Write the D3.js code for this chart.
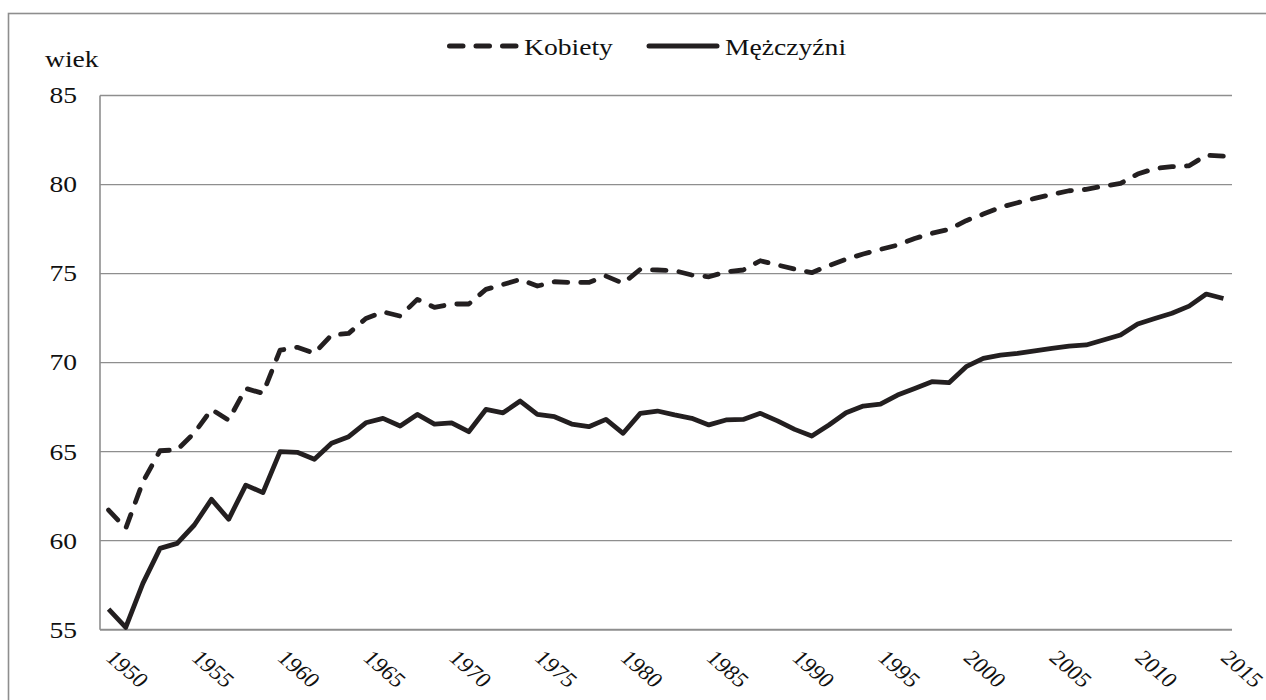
<!DOCTYPE html>
<html>
<head>
<meta charset="utf-8">
<script src="https://cdn.jsdelivr.net/npm/d3@7"></script>
<style>
  body { margin: 0; background: #fff; }
</style>
</head>
<body>
<div class="container"></div>
<script>
//Data: life expectancy (wiek) by year
var years = [1950,1951,1952,1953,1954,1955,1956,1957,1958,1959,
             1960,1961,1962,1963,1964,1965,1966,1967,1968,1969,
             1970,1971,1972,1973,1974,1975,1976,1977,1978,1979,
             1980,1981,1982,1983,1984,1985,1986,1987,1988,1989,
             1990,1991,1992,1993,1994,1995,1996,1997,1998,1999,
             2000,2001,2002,2003,2004,2005,2006,2007,2008,2009,
             2010,2011,2012,2013,2014,2015];
var kobiety = [61.72,60.69,63.3,65.05,65.1,66.05,67.37,66.77,68.55,68.27,
               70.7,70.86,70.52,71.55,71.64,72.48,72.85,72.61,73.55,73.1,
               73.29,73.29,74.11,74.39,74.67,74.3,74.54,74.5,74.5,74.86,
               74.45,75.24,75.2,75.16,74.92,74.82,75.1,75.2,75.72,75.48,
               75.25,75.05,75.45,75.8,76.1,76.36,76.6,76.97,77.26,77.48,
               77.97,78.34,78.72,78.98,79.22,79.45,79.65,79.73,79.91,80.06,
               80.59,80.9,81.0,81.05,81.65,81.6];
var mezczyzni = [56.15,55.13,57.6,59.57,59.85,60.88,62.32,61.2,63.12,62.7,
                 65.0,64.96,64.57,65.47,65.84,66.62,66.87,66.44,67.09,66.55,
                 66.62,66.12,67.37,67.18,67.84,67.09,66.96,66.55,66.4,66.81,
                 66.03,67.15,67.28,67.06,66.87,66.5,66.78,66.81,67.15,66.73,
                 66.25,65.88,66.5,67.18,67.56,67.67,68.18,68.55,68.93,68.87,
                 69.77,70.24,70.42,70.52,70.66,70.8,70.93,70.99,71.27,71.55,
                 72.17,72.48,72.77,73.17,73.85,73.6];
var yTicks = [55,60,65,70,75,80,85];
var xLabels = [1950,1955,1960,1965,1970,1975,1980,1985,1990,1995,2000,2005,2010,2015];

//Sizes
var width = 1266, height = 700;
var plot = {left: 100, right: 1232, top: 95.5, bottom: 629.7};
var stretch = 1.15; //text in the original is a bit wide
var ink = "#231f20", grid = "#8e8e8e", txt = "#111";
var serif = "'Liberation Serif', 'Times New Roman', serif";

var svg = d3.select(".container").append("svg")
    .attr("width", width)
    .attr("height", height)
    .attr("font-family", serif);

//outer frame (runs off the right and bottom edge)
svg.append("rect")
    .attr("x", 8.5).attr("y", 13.5)
    .attr("width", 1400).attr("height", 800)
    .attr("fill", "none").attr("stroke", grid).attr("stroke-width", 1.6);

var x = d3.scalePoint()
    .domain(years)
    .range([plot.left, plot.right])
    .padding(0.5);
var y = d3.scaleLinear()
    .domain([55, 85])
    .range([plot.bottom, plot.top]);

//gridlines
svg.append("g").selectAll("line")
    .data(yTicks.slice(1))
    .enter().append("line")
    .attr("x1", plot.left).attr("x2", plot.right)
    .attr("y1", function(d) { return y(d); })
    .attr("y2", function(d) { return y(d); })
    .attr("stroke", grid).attr("stroke-width", 1.3);

//axis lines
svg.append("line")
    .attr("x1", plot.left).attr("x2", plot.left)
    .attr("y1", plot.top).attr("y2", plot.bottom)
    .attr("stroke", grid).attr("stroke-width", 1.6);
svg.append("line")
    .attr("x1", plot.left).attr("x2", plot.right)
    .attr("y1", plot.bottom).attr("y2", plot.bottom)
    .attr("stroke", grid).attr("stroke-width", 2);

//y labels
svg.append("g").selectAll("text")
    .data(yTicks)
    .enter().append("text")
    .attr("transform", function(d) { return "translate(77," + y(d) + ") scale(" + stretch + ",1)"; })
    .attr("text-anchor", "end")
    .attr("dominant-baseline", "central")
    .attr("font-size", 24)
    .attr("fill", txt)
    .text(function(d) { return d; });

svg.append("text")
    .attr("transform", "translate(45,67) scale(" + stretch + ",1)")
    .attr("font-size", 24)
    .attr("fill", txt)
    .text("wiek");

//x labels, rotated
svg.append("g").selectAll("text")
    .data(xLabels)
    .enter().append("text")
    .attr("transform", function(d) {
      return "translate(" + (x(d) - 4) + ",659) scale(" + stretch + ",1) rotate(45)";
    })
    .attr("font-size", 21)
    .attr("fill", txt)
    .text(function(d) { return d; });

//lines
var line = d3.line()
    .x(function(d, i) { return x(years[i]); })
    .y(function(d) { return y(d); });

svg.append("path")
    .datum(kobiety)
    .attr("d", line)
    .attr("fill", "none").attr("stroke", ink).attr("stroke-width", 4.8)
    .attr("stroke-linecap", "round").attr("stroke-linejoin", "round")
    .attr("stroke-dasharray", "13.5,13");

svg.append("path")
    .datum(mezczyzni)
    .attr("d", line)
    .attr("fill", "none").attr("stroke", ink).attr("stroke-width", 4.8)
    .attr("stroke-linejoin", "round");

//legend
var leg = svg.append("g").attr("class", "legend");
leg.append("line")
    .attr("x1", 449.5).attr("x2", 516).attr("y1", 46).attr("y2", 46)
    .attr("stroke", ink).attr("stroke-width", 5)
    .attr("stroke-linecap", "round").attr("stroke-dasharray", "13.5,13");
leg.append("text")
    .attr("transform", "translate(524,54.5) scale(" + stretch + ",1)")
    .attr("font-size", 24)
    .attr("fill", txt)
    .text("Kobiety");
leg.append("line")
    .attr("x1", 649).attr("x2", 717).attr("y1", 46).attr("y2", 46)
    .attr("stroke", ink).attr("stroke-width", 5)
    .attr("stroke-linecap", "round");
leg.append("text")
    .attr("transform", "translate(725,54.5) scale(" + stretch + ",1)")
    .attr("font-size", 24)
    .attr("fill", txt)
    .text("Mężczyźni");
</script>
</body>
</html>
